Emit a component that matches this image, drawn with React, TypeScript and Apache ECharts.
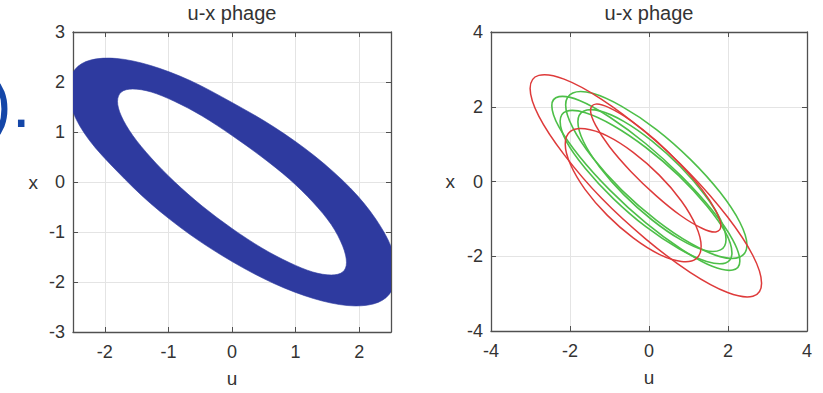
import { useEffect, useRef } from 'react';
import * as echarts from 'echarts';

type P = [number, number];

// ---- tick labels ----
const leftUTicks = [-2, -1, 0, 1, 2];
const leftXTicks = [-3, -2, -1, 0, 1, 2, 3];
const rightTicks = [-4, -2, 0, 2, 4];
const titleText = 'u-x phage';

// ---- left plot: outer & inner boundary of the blue band [u, x] ----
const bandOuter: P[] = [
  [2.56, -1.9], [2.52, -1.36], [2.26, -0.74], [1.86, -0.12], [1.3, 0.52], [0.66, 1.1],
  [0, 1.59], [-0.66, 2.03], [-1.28, 2.33], [-1.81, 2.47], [-2.22, 2.44], [-2.47, 2.25],
  [-2.56, 1.9], [-2.5, 1.4], [-2.24, 0.83], [-1.81, 0.22], [-1.28, -0.43], [-0.66, -1.05],
  [0, -1.59], [0.66, -2.03], [1.28, -2.33], [1.81, -2.47], [2.22, -2.44], [2.47, -2.25],
];
const bandInner: P[] = [
  [1.8, -1.61], [1.74, -1.28], [1.56, -0.85], [1.27, -0.4], [0.9, 0.06], [0.47, 0.5],
  [0, 0.93], [-0.47, 1.32], [-0.9, 1.61], [-1.27, 1.8], [-1.56, 1.86], [-1.74, 1.8],
  [-1.8, 1.61], [-1.74, 1.32], [-1.56, 0.93], [-1.27, 0.48], [-0.9, 0], [-0.47, -0.48],
  [0, -0.93], [0.47, -1.32], [0.9, -1.61], [1.27, -1.8], [1.56, -1.86], [1.74, -1.8],
];

// ---- right plot: red loops [u, x] ----
const red1: P[] = [
  [2.85, -2.72], [2.63, -1.98], [1.99, -0.95], [1.04, 0.21], [-0.08, 1.31], [-1.2, 2.2],
  [-2.15, 2.74], [-2.79, 2.84], [-3.01, 2.49], [-2.79, 1.75], [-2.15, 0.72], [-1.2, -0.45],
  [-0.08, -1.54], [1.04, -2.43], [1.99, -2.97], [2.63, -3.07],
];
const red2: P[] = [
  [1.82, -1.18], [1.69, -0.78], [1.34, -0.21], [0.8, 0.45], [0.17, 1.1], [-0.46, 1.63],
  [-1.0, 1.97], [-1.35, 2.07], [-1.48, 1.9], [-1.35, 1.5], [-1.0, 0.93], [-0.46, 0.27],
  [0.17, -0.37], [0.8, -0.91], [1.34, -1.25], [1.69, -1.35],
];
const red3: P[] = [
  [1.32, -1.73], [1.19, -1.19], [0.82, -0.52], [0.26, 0.17], [-0.4, 0.78], [-1.06, 1.22],
  [-1.62, 1.41], [-1.99, 1.34], [-2.12, 1.0], [-1.99, 0.46], [-1.62, -0.21], [-1.06, -0.9],
  [-0.4, -1.51], [0.26, -1.95], [0.82, -2.14], [1.19, -2.07],
];

// ---- right plot: green loops [u, x] ----
const greenA: P[] = [
  [2.3, -2.13], [2.12, -1.56], [1.6, -0.77], [0.83, 0.13], [-0.08, 1.01], [-0.99, 1.72],
  [-1.76, 2.17], [-2.28, 2.27], [-2.46, 2.03], [-2.28, 1.46], [-1.76, 0.67], [-0.99, -0.23],
  [-0.08, -1.11], [0.83, -1.82], [1.6, -2.27], [2.12, -2.37],
];
const greenB: P[] = [
  [2.48, -1.7], [2.3, -1.09], [1.8, -0.29], [1.06, 0.58], [0.19, 1.39], [-0.69, 2.01],
  [-1.43, 2.36], [-1.93, 2.37], [-2.11, 2.05], [-1.93, 1.44], [-1.43, 0.64], [-0.69, -0.23],
  [0.19, -1.04], [1.06, -1.66], [1.8, -2.01], [2.3, -2.02],
];
const greenC: P[] = [
  [2.1, -1.91], [1.94, -1.37], [1.46, -0.65], [0.76, 0.15], [-0.08, 0.91], [-0.91, 1.5],
  [-1.61, 1.84], [-2.09, 1.88], [-2.25, 1.61], [-2.09, 1.07], [-1.61, 0.35], [-0.91, -0.45],
  [-0.08, -1.21], [0.76, -1.8], [1.46, -2.14], [1.94, -2.18],
];
const greenD: P[] = [
  [1.95, -1.55], [1.81, -1.02], [1.4, -0.34], [0.79, 0.4], [0.08, 1.08], [-0.64, 1.61],
  [-1.25, 1.89], [-1.66, 1.88], [-1.8, 1.6], [-1.66, 1.07], [-1.25, 0.39], [-0.64, -0.35],
  [0.08, -1.03], [0.79, -1.55], [1.4, -1.84], [1.81, -1.83],
];

const redLoops = [red1, red2, red3];
const greenLoops = [greenA, greenB, greenC, greenD];

const FONT = 'Arial, "Liberation Sans", Helvetica, sans-serif';
const TEXT = '#333333';
const BOX = '#505050';
const GRID = '#e4e4e4';
const BAND = '#2e3a9f';
const RED = '#de3a3a';
const GREEN = '#4dbf48';

function closedPath(pts: number[][]): string {
  const n = pts.length;
  const f = (v: number) => v.toFixed(2);
  let d = `M${f(pts[0][0])},${f(pts[0][1])}`;
  for (let i = 0; i < n; i++) {
    const p0 = pts[(i - 1 + n) % n];
    const p1 = pts[i];
    const p2 = pts[(i + 1) % n];
    const p3 = pts[(i + 2) % n];
    const c1x = p1[0] + (p2[0] - p0[0]) / 6;
    const c1y = p1[1] + (p2[1] - p0[1]) / 6;
    const c2x = p2[0] - (p3[0] - p1[0]) / 6;
    const c2y = p2[1] - (p3[1] - p1[1]) / 6;
    d += `C${f(c1x)},${f(c1y)},${f(c2x)},${f(c2y)},${f(p2[0])},${f(p2[1])}`;
  }
  return d + 'Z';
}

function axisPair(min: number, max: number, ticks: number[], gridIndex: number, name: string, isX: boolean, nameGap: number, interval?: number) {
  const fmt = (v: number) => (ticks.some((t) => Math.abs(t - v) < 1e-9) ? String(v) : '');
  const main: any = {
    type: 'value',
    gridIndex,
    min,
    max,
    position: isX ? 'bottom' : 'left',
    name,
    nameLocation: 'middle',
    nameGap,
    nameRotate: 0,
    nameTextStyle: { fontSize: 19, color: TEXT, fontFamily: FONT },
    axisLine: { show: true, onZero: false, lineStyle: { color: BOX, width: 1.3 } },
    axisTick: { show: true, inside: true, length: 5, lineStyle: { color: BOX, width: 1 } },
    axisLabel: { formatter: fmt, fontSize: 18, color: TEXT, fontFamily: FONT, margin: isX ? 11 : 8 },
    splitLine: { show: true, lineStyle: { color: GRID, width: 1 } },
  };
  const other: any = {
    type: 'value',
    gridIndex,
    min,
    max,
    position: isX ? 'top' : 'right',
    axisLine: { show: true, onZero: false, lineStyle: { color: BOX, width: 1.3 } },
    axisTick: { show: true, inside: true, length: 5, lineStyle: { color: BOX, width: 1 } },
    axisLabel: { show: false },
    splitLine: { show: false },
  };
  if (interval !== undefined) {
    main.interval = interval;
    other.interval = interval;
  } else {
    main.splitNumber = 5;
    other.splitNumber = 5;
  }
  return [main, other];
}

function loopSeries(loops: P[][], color: string, width: number, axisIdx: number) {
  return {
    type: 'custom',
    xAxisIndex: axisIdx,
    yAxisIndex: axisIdx,
    clip: true,
    data: loops.map((_, k) => [k, 0]),
    renderItem: (params: any, api: any) => {
      const pts = loops[params.dataIndex].map((p) => api.coord(p));
      return {
        type: 'path',
        shape: { pathData: closedPath(pts) },
        style: { fill: 'none', stroke: color, lineWidth: width },
      };
    },
  };
}

export default function App() {
  const ref = useRef<HTMLDivElement>(null);

  useEffect(() => {
    if (!ref.current) return;
    const chart = echarts.init(ref.current, null, { renderer: 'svg' });

    const titleStyle = { fontSize: 20, fontWeight: 'normal', color: TEXT, fontFamily: FONT };
    const option: any = {
      animation: false,
      backgroundColor: '#ffffff',
      title: [
        { text: titleText, left: 232, top: 3, textAlign: 'center', padding: 0, textStyle: titleStyle },
        { text: titleText, left: 649, top: 3, textAlign: 'center', padding: 0, textStyle: titleStyle },
      ],
      grid: [
        { left: 73, top: 32, width: 318, height: 300, containLabel: false },
        { left: 491, top: 32, width: 316, height: 299, containLabel: false },
      ],
      xAxis: [
        ...axisPair(-2.5, 2.5, leftUTicks, 0, 'u', true, 37),
        ...axisPair(-4, 4, rightTicks, 1, 'u', true, 37, 2),
      ],
      yAxis: [
        ...axisPair(-3, 3, leftXTicks, 0, 'x', false, 35, 1),
        ...axisPair(-4, 4, rightTicks, 1, 'x', false, 36, 2),
      ],
      graphic: [
        {
          type: 'text', x: -11, y: 103, z: 100,
          style: { text: ').', fontSize: 68, fontFamily: FONT, fill: '#1446a8', verticalAlign: 'middle' },
        },
      ],
      series: [
        {
          type: 'custom',
          xAxisIndex: 0,
          yAxisIndex: 0,
          clip: true,
          data: [[0, 0]],
          renderItem: (_params: any, api: any) => {
            const o = bandOuter.map((p) => api.coord(p));
            const i = bandInner.slice().reverse().map((p) => api.coord(p));
            return {
              type: 'path',
              shape: { pathData: closedPath(o) + closedPath(i) },
              style: { fill: BAND, stroke: BAND, lineWidth: 0.6 },
            };
          },
        },
        loopSeries(greenLoops, GREEN, 1.6, 2),
        loopSeries(redLoops, RED, 1.5, 2),
      ],
    };

    chart.setOption(option);
    return () => chart.dispose();
  }, []);

  return (
    <div
      ref={ref}
      style={{ position: 'fixed', left: 0, top: 0, width: 823, height: 393, background: '#ffffff' }}
    />
  );
}
